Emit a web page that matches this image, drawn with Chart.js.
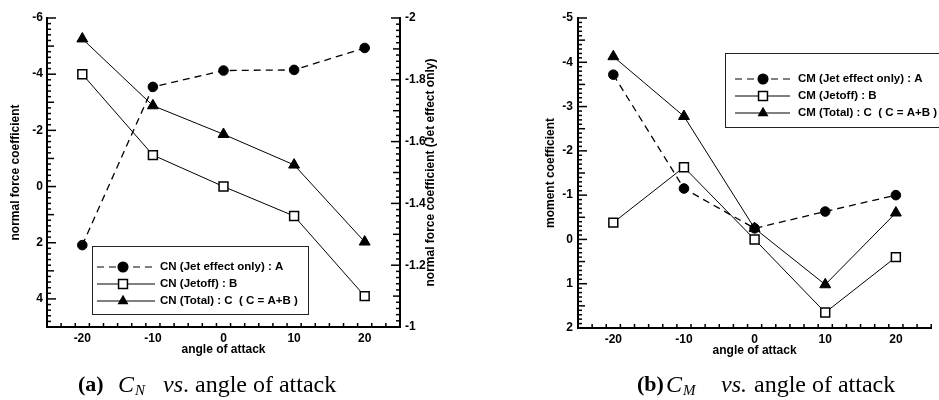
<!DOCTYPE html>
<html>
<head>
<meta charset="utf-8">
<script src="https://cdn.jsdelivr.net/npm/chart.js@4.4.0/dist/chart.umd.min.js"></script>
<style>
  body { margin: 0; background: #fff; }
  #wrap { position: relative; width: 939px; height: 400px; overflow: hidden; }
  canvas { position: absolute; top: 0; }
  #cA { left: 0; }
  #cB { left: 470px; }
  .cap { position: absolute; top: 372px; line-height: 24px; font-family: "Liberation Serif", "Times New Roman", serif; font-size: 24px; color: #000; white-space: nowrap; }
  .cap.lbl { font-size: 22px; }
  .cap.sub { top: 378px; font-size: 15px; font-style: italic; }
</style>
</head>
<body>
<div id="wrap">
  <canvas id="cA" width="470" height="400"></canvas>
  <canvas id="cB" width="469" height="400"></canvas>
  <span class="cap lbl" style="left:78px"><b>(a)</b></span>
  <span class="cap" style="left:118px"><i>C</i></span>
  <span class="cap sub" style="left:135px">N</span>
  <span class="cap" style="left:163px"><i>vs</i>.</span>
  <span class="cap" style="left:195px">angle of attack</span>
  <span class="cap lbl" style="left:637px"><b>(b)</b></span>
  <span class="cap" style="left:666px"><i>C</i></span>
  <span class="cap sub" style="left:683px">M</span>
  <span class="cap" style="left:721px"><i>vs.</i></span>
  <span class="cap" style="left:754px">angle of attack</span>
</div>
<script>
// angles of attack (deg)
const angles = [-20, -10, 0, 10, 20];

// (a) normal force
const cnJet = [-1.265, -1.777, -1.83, -1.832, -1.903];   // right axis
const cnJetoff = [-4.0, -1.12, 0.0, 1.05, 3.9];
const cnTotal = [-5.26, -2.88, -1.86, -0.77, 1.97];

// (b) moment
const cmJet = [-3.72, -1.15, -0.25, -0.63, -1.0];
const cmJetoff = [-0.38, -1.63, 0.0, 1.65, 0.4];
const cmTotal = [-4.13, -2.78, -0.25, 1.02, -0.6];

const xTicks = [-20, -10, 0, 10, 20];
const cnTicks = [-6, -4, -2, 0, 2, 4];
const cnJetTicks = [-2, -1.8, -1.6, -1.4, -1.2, -1];
const cmTicks = [-5, -4, -3, -2, -1, 0, 1, 2];

const FONT = '"Liberation Sans", Arial, sans-serif';
const axisFont = { family: FONT, size: 12, weight: 'bold' };

const pts = vals => angles.map((a, i) => ({ x: a, y: vals[i] }));

const styleJet = { borderColor: '#000', borderWidth: 1.3, borderDash: [7, 5], pointStyle: 'circle', pointRadius: 4.8, pointBackgroundColor: '#000', pointBorderColor: '#000', pointBorderWidth: 1 };
const styleOff = { borderColor: '#000', borderWidth: 1, pointStyle: 'rect', pointRadius: 6.3, pointBackgroundColor: '#fff', pointBorderColor: '#000', pointBorderWidth: 1.5 };
const styleTot = { borderColor: '#000', borderWidth: 1, pointStyle: 'triangle', pointRadius: 6.3, pointBackgroundColor: '#000', pointBorderColor: '#000', pointBorderWidth: 1 };

function fixTicks(values) {
  return s => { s.ticks = values.map(v => ({ value: v })); };
}

function drawMark(ctx, style, x, y, r, fill) {
  ctx.beginPath();
  if (style === 'circle') {
    ctx.arc(x, y, r, 0, Math.PI * 2);
  } else if (style === 'rect') {
    const h = r / Math.SQRT2;
    ctx.rect(x - h, y - h, 2 * h, 2 * h);
  } else {
    const h = r * 0.866;
    ctx.moveTo(x, y - r);
    ctx.lineTo(x + h, y + r / 2);
    ctx.lineTo(x - h, y + r / 2);
    ctx.closePath();
  }
  ctx.fillStyle = fill;
  ctx.fill();
  ctx.lineWidth = 1.5;
  ctx.strokeStyle = '#000';
  ctx.stroke();
}

// tick marks pointing into the plot
function innerTicks(axes) {
  return {
    id: 'innerTicks',
    afterDraw(chart) {
      const ctx = chart.ctx;
      ctx.save();
      ctx.setLineDash([]);
      ctx.strokeStyle = '#000';
      ctx.lineWidth = 1.5;
      axes.forEach(a => {
        const s = chart.scales[a.id];
        const n = Math.round((s.max - s.min) / a.minor);
        for (let i = 0; i <= n; i++) {
          const v = s.min + i * a.minor;
          const on = step => Math.abs(v / step - Math.round(v / step)) < 1e-6;
          const len = on(a.major) ? 9 : (a.mid && on(a.mid) ? 7 : 4);
          const p = s.getPixelForValue(v);
          ctx.beginPath();
          if (s.isHorizontal()) {
            ctx.moveTo(p, s.top); ctx.lineTo(p, s.top - len);
          } else if (s.position === 'left') {
            ctx.moveTo(s.right, p); ctx.lineTo(s.right + len, p);
          } else {
            ctx.moveTo(s.left, p); ctx.lineTo(s.left - len, p);
          }
          ctx.stroke();
        }
      });
      ctx.restore();
    }
  };
}

function boxLegend(o) {
  return {
    id: 'boxLegend',
    afterDraw(chart) {
      const ctx = chart.ctx;
      ctx.save();
      ctx.fillStyle = '#fff';
      ctx.fillRect(o.x, o.y, o.w, o.h);
      ctx.strokeStyle = '#222';
      ctx.lineWidth = 1;
      ctx.strokeRect(o.x + 0.5, o.y + 0.5, o.w, o.h);
      ctx.font = 'bold 11.5px ' + FONT;
      ctx.textBaseline = 'middle';
      chart.data.datasets.forEach((ds, i) => {
        const y = o.rows[i];
        ctx.strokeStyle = '#000';
        ctx.lineWidth = 1;
        ctx.setLineDash(ds.borderDash || []);
        ctx.beginPath();
        ctx.moveTo(o.x0, y);
        ctx.lineTo(o.x1, y);
        ctx.stroke();
        ctx.setLineDash([]);
        drawMark(ctx, ds.pointStyle, o.mx, y, ds.pointStyle === 'rect' ? 6.3 : 4.8, ds.pointBackgroundColor);
        ctx.fillStyle = '#000';
        ctx.fillText(ds.label, o.tx, y);
      });
      ctx.restore();
    }
  };
}

// right-hand title, reading bottom to top like the left one
function sideTitle(text, x) {
  return {
    id: 'sideTitle',
    afterDraw(chart) {
      const ctx = chart.ctx;
      const area = chart.chartArea;
      ctx.save();
      ctx.translate(x, (area.top + area.bottom) / 2);
      ctx.rotate(-Math.PI / 2);
      ctx.font = 'bold 12px ' + FONT;
      ctx.fillStyle = '#000';
      ctx.textAlign = 'center';
      ctx.textBaseline = 'middle';
      ctx.fillText(text, 0, 0);
      ctx.restore();
    }
  };
}

const xScale = {
  type: 'linear', min: -25, max: 25,
  afterBuildTicks: fixTicks(xTicks),
  afterFit: s => { s.height = 30; },
  grid: { display: false, drawTicks: false },
  border: { display: true, color: '#000', width: 2 },
  ticks: { padding: 4, color: '#000', font: axisFont },
  title: { display: true, text: 'angle of attack', color: '#000', font: axisFont, padding: 0 }
};

Chart.defaults.animation = false;

new Chart(document.getElementById('cA'), {
  type: 'line',
  data: {
    datasets: [
      { label: 'CN (Jet effect only) : A', data: pts(cnJet), yAxisID: 'y2', ...styleJet },
      { label: 'CN (Jetoff) : B', data: pts(cnJetoff), yAxisID: 'y', ...styleOff },
      { label: 'CN (Total) : C  ( C = A+B )', data: pts(cnTotal), yAxisID: 'y', ...styleTot }
    ]
  },
  options: {
    responsive: false,
    devicePixelRatio: 1,
    layout: { padding: { left: 0, right: 0, top: 18, bottom: 43 } },
    plugins: { legend: { display: false }, tooltip: { enabled: false } },
    scales: {
      x: xScale,
      y: {
        position: 'left', reverse: true, min: -6, max: 5,
        afterBuildTicks: fixTicks(cnTicks),
        afterFit: s => { s.width = 47; },
        grid: { display: false, drawTicks: false },
        border: { display: true, color: '#000', width: 2 },
        ticks: { padding: 4, color: '#000', font: axisFont },
        title: { display: true, text: 'normal force coefficient', color: '#000', font: axisFont, padding: { top: 8, bottom: 0 } }
      },
      y2: {
        position: 'right', reverse: true, min: -2, max: -1,
        afterBuildTicks: fixTicks(cnJetTicks),
        afterFit: s => { s.width = 70; },
        grid: { display: false, drawTicks: false },
        border: { display: true, color: '#000', width: 2 },
        ticks: { padding: 5, color: '#000', font: axisFont, callback: v => String(+v.toFixed(1)) }
      }
    }
  },
  plugins: [
    innerTicks([
      { id: 'x', minor: 2, major: 10 },
      { id: 'y', minor: 0.2, major: 2, mid: 1 },
      { id: 'y2', minor: 0.02, major: 0.2, mid: 0.1 }
    ]),
    boxLegend({ x: 92, y: 246, w: 216, h: 68, rows: [267, 284, 301], x0: 97, x1: 155, mx: 123, tx: 160 }),
    sideTitle('normal force coefficient (Jet effect only)', 431)
  ]
});

new Chart(document.getElementById('cB'), {
  type: 'line',
  data: {
    datasets: [
      { label: 'CM (Jet effect only) : A', data: pts(cmJet), ...styleJet },
      { label: 'CM (Jetoff) : B', data: pts(cmJetoff), ...styleOff },
      { label: 'CM (Total) : C  ( C = A+B )', data: pts(cmTotal), ...styleTot }
    ]
  },
  options: {
    responsive: false,
    devicePixelRatio: 1,
    layout: { padding: { left: 73, right: 7, top: 18, bottom: 42 } },
    plugins: { legend: { display: false }, tooltip: { enabled: false } },
    scales: {
      x: xScale,
      y: {
        position: 'left', reverse: true, min: -5, max: 2,
        afterBuildTicks: fixTicks(cmTicks),
        afterFit: s => { s.width = 35; },
        grid: { display: false, drawTicks: false },
        border: { display: true, color: '#000', width: 2 },
        ticks: { padding: 5, color: '#000', font: axisFont },
        title: { display: true, text: 'moment coefficient', color: '#000', font: axisFont, padding: 0 }
      }
    }
  },
  plugins: [
    innerTicks([
      { id: 'x', minor: 2, major: 10 },
      { id: 'y', minor: 0.1, major: 1, mid: 0.5 }
    ]),
    boxLegend({ x: 255, y: 53, w: 260, h: 74, rows: [79, 96, 113], x0: 265, x1: 320, mx: 293, tx: 328 })
  ]
});
</script>
</body>
</html>
